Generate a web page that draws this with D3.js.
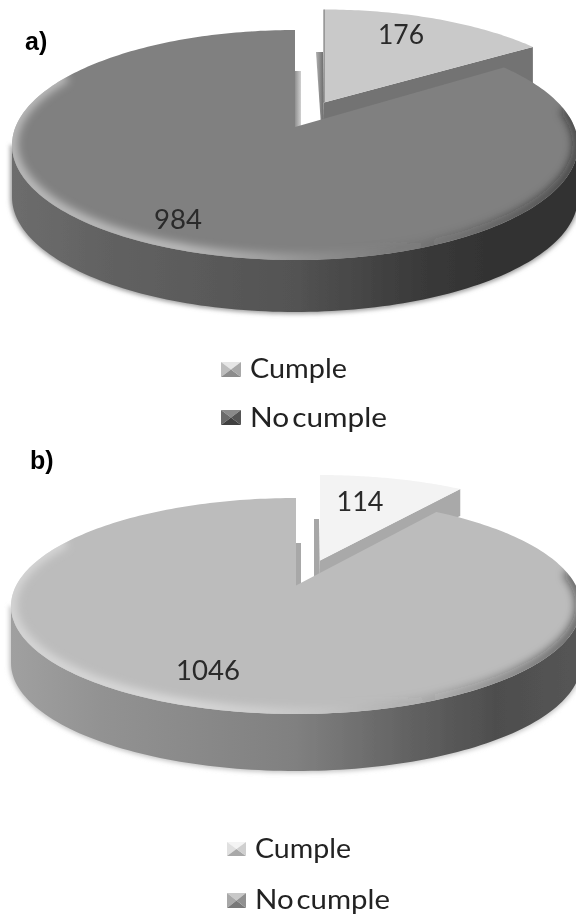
<!DOCTYPE html>
<html><head><meta charset="utf-8">
<script src="https://cdnjs.cloudflare.com/ajax/libs/d3/7.8.5/d3.min.js"></script>
<style>html,body{margin:0;padding:0;background:#fff}svg{display:block}</style>
</head><body><svg id="c" width="576" height="916"></svg>
<script>
const categories = ["Cumple", "No cumple"];
const panelLabels = ["a)", "b)"];
const valuesA = [176, 984];
const valuesB = [114, 1046];

const layouts = [
 {id:"a",values:valuesA,label:panelLabels[0],lx:25,ly:50,cx:295,cy:145,rx:283,ry:115,tilt:.157,depth:52,off:[29,-20.5],apexLift:4,
  top:"#808080",slice:"#c9c9c9",side:"#737373",strip:["#b0b0b0","#686868"],mstrip:["#858585","#d0d0d0"],edge:"#6a6a6a",
  wallStops:["#6d6d6d","#626262","#535353","#3a3a3a","#323232","#333333"],shadow:"#a0a0a0",
  nearDepth:17,farDepth:36,stripY:52,stripW:8,stripWB:3,mainY:71,mainW:6,
  v:[[178,229],[401,44]],vw:[48,46],leg:[{sx:221,sy:362,sw:20,sh:15,tx:250,ty:378,tw:97},{sx:221,sy:410,sw:20,sh:15,tx:250,ty:427,tw:137}],
  swA:["#e6e6e6","#bdbdbd","#8c8c8c","#a8a8a8"],swB:["#8a8a8a","#6a6a6a","#404040","#555"]},
 {id:"b",values:valuesB,label:panelLabels[1],lx:30,ly:469,cx:296,cy:606,rx:285,ry:108,tilt:.19,depth:57,off:[24,-23],apexLift:2,
  top:"#bcbcbc",slice:"#f3f3f3",side:"#a9a9a9",strip:["#a6a6a6","#a6a6a6"],mstrip:["#a8a8a8","#a8a8a8"],edge:"none",
  wallStops:["#a0a0a0","#929292","#808080","#5f5f5f","#4e4e4e","#555555"],shadow:"#c8c8c8",
  nearDepth:16,farDepth:27,stripY:519,stripW:6,stripWB:6,mainY:543,mainW:5,
  v:[[208,680],[360,511]],vw:[64,47],leg:[{sx:227,sy:842,sw:19,sh:14,tx:255,ty:858,tw:96},{sx:227,sy:893,sw:19,sh:15,tx:255,ty:909,tw:135}],
  swA:["#f4f4f4","#e0e0e0","#a8a8a8","#cfcfcf"],swB:["#c8c8c8","#a8a8a8","#787878","#909090"]}
];

const svg = d3.select("#c");
const defs = svg.append("defs");
[[.45,"b05"],[4,"b3"],[2.2,"b2"]].forEach(([s,i])=>defs.append("filter").attr("id",i)
  .attr("x","-10%").attr("y","-10%").attr("width","120%").attr("height","120%")
  .append("feGaussianBlur").attr("stdDeviation",s));
const hGrad=(id,c)=>{const g=defs.append("linearGradient").attr("id",id);
  c.forEach((k,i)=>g.append("stop").attr("offset",i).attr("stop-color",k));};
const root = svg.append("g").attr("filter","url(#b05)");
const line = d3.line();
const pie = d3.pie().sort(null);

layouts.forEach(L=>{
  const arcs = pie(L.values);
  const [sl, mn] = arcs;
  const gapFree = Math.sqrt(1-L.tilt*L.tilt);
  // perspective projection of the unit pie disc onto the ellipse
  const proj = (u,v)=>{const d=1+L.tilt*v;
    return [L.cx+L.rx*u*gapFree/d, L.cy-L.ry*(v+L.tilt)/d];};
  const rim = t=>proj(Math.sin(t),Math.cos(t));
  const apex = proj(0,0);
  const sweep = (a,b,n=160)=>d3.range(n+1).map(i=>rim(a+(b-a)*i/n));
  const sh = (p,dx,dy)=>[p[0]+dx,p[1]+dy];
  const ell = ph=>[L.cx+L.rx*Math.cos(ph),L.cy+L.ry*Math.sin(ph)];
  const lower = d3.range(121).map(i=>ell(Math.PI*i/120));
  const bevel = d3.range(141).map(i=>ell(-Math.PI*.1+Math.PI*1.3*i/140));
  const wallPts = lower.concat(lower.slice().reverse().map(p=>sh(p,0,L.depth)));

  const gid="w"+L.id;
  const gr=defs.append("linearGradient").attr("id",gid).attr("gradientUnits","userSpaceOnUse")
    .attr("x1",L.cx-L.rx).attr("x2",L.cx+L.rx).attr("y1",0).attr("y2",0);
  L.wallStops.forEach((c,i)=>gr.append("stop").attr("offset",[0,.16,.5,.72,.85,1][i]).attr("stop-color",c));
  const hi=defs.append("linearGradient").attr("id","h"+L.id).attr("gradientUnits","userSpaceOnUse")
    .attr("x1",L.cx-L.rx).attr("x2",L.cx+L.rx).attr("y1",0).attr("y2",0);
  [[0,"#e8e8e8",.6],[.3,"#f4f4f4",.55],[.55,"#ffffff",.12],[.72,"#222",.1],[1,"#111",.55]].forEach(s=>
    hi.append("stop").attr("offset",s[0]).attr("stop-color",s[1]).attr("stop-opacity",s[2]));
  hGrad("s"+L.id,L.strip); hGrad("t"+L.id,L.mstrip);

  const g=root.append("g");

  // soft ground shadow and wall of the disc
  g.append("path").attr("d",line(wallPts)+"Z").attr("fill",L.shadow).attr("stroke",L.shadow).attr("stroke-width",4).attr("filter","url(#b2)");
  g.append("path").attr("d",line(wallPts)+"Z").attr("fill",`url(#${gid})`);

  // exploded slice: walls, then top
  const [ox,oy]=L.off;
  const sA=sh(apex,ox,oy-L.apexLift), sT=sh(rim(sl.endAngle),ox,oy), s0=sh(rim(sl.startAngle),ox,oy);
  g.append("path").attr("d",line([sA,sT,sh(sT,0,L.farDepth),sh(sA,0,L.nearDepth)])+"Z").attr("fill",L.side);
  g.append("path").attr("d",line([[sA[0]-L.stripW,L.stripY],[sA[0]-1,L.stripY],[sA[0],sA[1]+L.nearDepth+6],[sA[0]-L.stripWB,sA[1]+L.nearDepth+6]])+"Z").attr("fill",`url(#s${L.id})`);
  g.append("path").attr("d",line([sA].concat(sweep(sl.startAngle,sl.endAngle,60).map(p=>sh(p,ox,oy))))+"Z").attr("fill",L.slice);
  g.append("path").attr("d",line([s0,sA])).attr("stroke",L.edge).attr("fill","none");

  // main slice
  const mainTop=sweep(mn.startAngle,mn.endAngle,260);
  const topPts=[apex].concat(mainTop);
  g.append("path").attr("d",line([[apex[0]-1,L.mainY],[apex[0]+L.mainW,L.mainY],[apex[0]+L.mainW,apex[1]],[apex[0]-1,apex[1]+2]])+"Z").attr("fill",`url(#t${L.id})`);
  const clip="m"+L.id;
  defs.append("clipPath").attr("id",clip).append("path").attr("d",line(topPts)+"Z");
  g.append("path").attr("d",line(topPts)+"Z").attr("fill",L.top);
  g.append("g").attr("clip-path",`url(#${clip})`)
    .append("path").attr("d",line(bevel.map(p=>sh(p,0,-1))))
    .attr("fill","none").attr("stroke",`url(#h${L.id})`).attr("stroke-width",11).attr("filter","url(#b3)");

  // value labels
  root.append("g").selectAll("text").data(L.values).join("text")
    .attr("x",(d,i)=>L.v[1-i][0]).attr("y",(d,i)=>L.v[1-i][1])
    .attr("text-anchor","middle").attr("font-family","Lato").attr("font-size",26)
    .attr("textLength",(d,i)=>L.vw[1-i]).attr("lengthAdjust","spacingAndGlyphs").attr("fill","#2a2a2a").text(d=>d);

  // panel letter
  root.append("text").attr("x",L.lx).attr("y",L.ly).attr("font-family","Liberation Sans").attr("font-weight","bold")
    .attr("font-size",25).attr("fill","#000").text(L.label);

  // legend
  const lg=root.append("g").selectAll("g").data(categories).join("g");
  lg.each(function(c,i){
    const e=L.leg[i], cols=i?L.swB:L.swA, s=d3.select(this);
    const tl=[e.sx,e.sy],tr=[e.sx+e.sw,e.sy],br=[e.sx+e.sw,e.sy+e.sh],bl=[e.sx,e.sy+e.sh],m=[e.sx+e.sw/2,e.sy+e.sh/2];
    [[tl,tr,m],[tl,bl,m],[bl,br,m],[tr,br,m]].forEach((t,k)=>s.append("path").attr("d",line(t)+"Z").attr("fill",cols[k]));
    s.append("text").attr("x",e.tx).attr("y",e.ty).attr("font-family","Lato").attr("font-size",26).attr("word-spacing",-4)
      .attr("textLength",e.tw).attr("lengthAdjust","spacingAndGlyphs").attr("fill","#222").text(c);
  });
});
</script></body></html>
